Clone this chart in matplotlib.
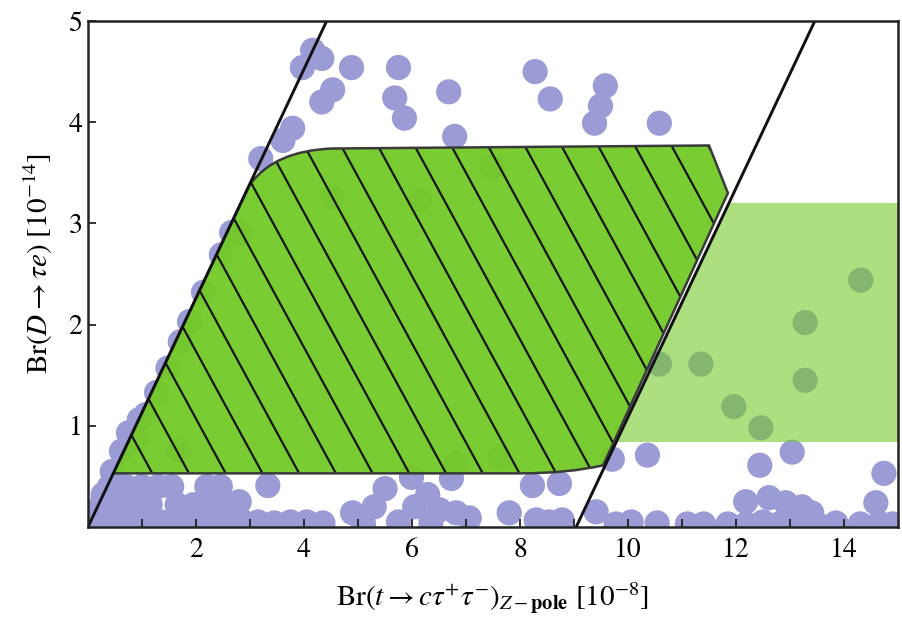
import matplotlib
matplotlib.use("Agg")
import matplotlib.pyplot as plt
from matplotlib.path import Path
from matplotlib.patches import PathPatch, Polygon
from matplotlib.ticker import FixedLocator
import numpy as np

plt.rcParams['mathtext.fontset'] = 'stix'
plt.rcParams['font.family'] = 'STIXGeneral'

# --- scan points: Br(t -> c tau tau) [1e-8], Br(D -> tau e) [1e-14] ---
upper_x = [4.16, 4.33, 3.97, 4.88, 5.75, 4.53, 4.33, 5.68, 5.86, 6.68, 6.79, 3.79, 3.61, 3.20,
           8.28, 8.56, 9.58, 9.49, 9.38, 10.58]
upper_y = [4.71, 4.63, 4.54, 4.54, 4.54, 4.32, 4.20, 4.24, 4.04, 4.30, 3.86, 3.94, 3.82, 3.64,
           4.50, 4.23, 4.36, 4.16, 3.99, 3.99]

edge_x = [2.66, 2.47, 2.14, 1.88, 1.71, 1.48, 1.27, 1.07, 0.95, 0.88, 0.75, 0.62, 0.45, 0.28, 0.15]
edge_y = [2.91, 2.69, 2.32, 2.03, 1.83, 1.57, 1.33, 1.11, 1.06, 0.87, 0.93, 0.75, 0.55, 0.32, 0.12]

low_x = [0.40, 0.70, 1.00, 1.30, 1.55, 2.20, 2.45,
         0.25, 0.55, 0.90, 1.15, 1.65, 1.95, 2.25, 2.55, 2.80,
         0.15, 0.45, 0.75, 1.05, 1.35, 1.65, 1.95, 2.25, 2.55, 2.85, 3.15, 3.45, 3.75,
         4.05, 4.35, 3.33,
         4.90, 5.10, 5.30, 5.50, 5.99, 6.05, 6.29, 6.51, 6.73, 6.82, 7.06, 5.75, 6.35,
         7.80, 8.23, 8.73, 8.30, 8.54, 8.78, 9.41]
low_y = [0.40, 0.40, 0.40, 0.40, 0.40, 0.40, 0.40,
         0.22, 0.22, 0.22, 0.22, 0.22, 0.22, 0.22, 0.22, 0.25,
         0.05, 0.05, 0.05, 0.05, 0.05, 0.05, 0.05, 0.05, 0.05, 0.06, 0.05, 0.04, 0.05,
         0.05, 0.04, 0.41,
         0.14, 0.03, 0.20, 0.38, 0.49, 0.20, 0.32, 0.17, 0.48, 0.14, 0.09, 0.05, 0.04,
         0.14, 0.41, 0.43, 0.07, 0.05, 0.07, 0.15]

right_x = [9.78, 10.06, 10.54, 11.10, 11.40, 11.85, 12.19, 12.50, 12.80, 13.10, 13.50, 13.85,
           14.30, 14.65, 14.90,
           12.18, 12.61, 12.92, 13.22, 13.40, 14.59, 14.74, 12.44, 13.04, 10.36, 9.71,
           10.58, 11.35, 11.96, 12.46, 13.28, 13.28, 14.31]
right_y = [0.03, 0.05, 0.04, 0.03, 0.03, 0.03, 0.03, 0.05, 0.03, 0.05, 0.03, 0.04,
           0.03, 0.04, 0.03,
           0.25, 0.29, 0.24, 0.20, 0.14, 0.24, 0.53, 0.61, 0.74, 0.71, 0.67,
           1.61, 1.61, 1.19, 0.98, 2.02, 1.45, 2.44]

inner_x = [4.53, 6.14, 7.49, 1.68, 7.62, 6.82, 2.81]
inner_y = [3.26, 3.23, 3.56, 0.76, 0.69, 0.63, 2.90]

# --- correlation bounds: Br_D = slope * (Br_t - offset) ---
bound_slope = 5.0 / 4.42
bound_offsets = [0.0, 9.04]

# --- measured Br(D -> tau e) band ---
band_lo, band_hi = 0.84, 3.20

# --- overlap region outline (with rounded corners) ---
region_verts = [(0.47, 0.53), (2.99, 3.38), (3.45, 3.72), (4.53, 3.74), (11.50, 3.77),
                (11.85, 3.30), (9.54, 0.61), (8.90, 0.53), (8.00, 0.53), (0.47, 0.53)]
region_codes = [Path.MOVETO, Path.LINETO, Path.CURVE3, Path.CURVE3, Path.LINETO,
                Path.LINETO, Path.LINETO, Path.CURVE3, Path.CURVE3, Path.CLOSEPOLY]

hatch_slope = -0.98
hatch_step = 0.68
hatch_anchor = (4.715, 3.74)

dot_color = '#9b9bd6'
green = (0.455, 0.792, 0.157)

fig = plt.figure(figsize=(9.02, 6.18), dpi=100)
ax = fig.add_axes([88 / 902, 1 - 527 / 618, (898 - 88) / 902, (527 - 21) / 618])

all_x = upper_x + edge_x + low_x + right_x + inner_x
all_y = upper_y + edge_y + low_y + right_y + inner_y
ax.scatter(all_x, all_y, s=330, color=dot_color, edgecolors='none', zorder=1)

# measured band to the right of the second bound
x_lo = bound_offsets[1] + band_lo / bound_slope
x_hi = bound_offsets[1] + band_hi / bound_slope
ax.add_patch(Polygon([(x_lo, band_lo), (15, band_lo), (15, band_hi), (x_hi, band_hi)],
                     closed=True, facecolor=green, alpha=0.59, edgecolor='none', zorder=2))

# overlap region with diagonal hatching
path = Path(region_verts, region_codes)
face = PathPatch(path, facecolor=green, alpha=0.96, edgecolor='none', zorder=3)
ax.add_patch(face)
for k in range(-20, 20):
    x0 = hatch_anchor[0] + k * hatch_step
    yy = np.array([-1.0, 6.0])
    xx = x0 + (yy - hatch_anchor[1]) / hatch_slope
    ln, = ax.plot(xx, yy, color='#151515', lw=1.6, zorder=4)
    ln.set_clip_path(face)
ax.add_patch(PathPatch(path, facecolor='none', edgecolor='#3a3a3a', lw=1.8, zorder=5))

# correlation bound lines
for off in bound_offsets:
    yy = np.array([0.0, 5.0])
    ax.plot(off + yy / bound_slope, yy, color='#111111', lw=2.1, zorder=6,
            solid_capstyle='butt')

ax.set_xlim(0, 15)
ax.set_ylim(0, 5)
ax.xaxis.set_major_locator(FixedLocator([2, 4, 6, 8, 10, 12, 14]))
ax.xaxis.set_minor_locator(FixedLocator([1, 3, 5, 7, 9, 11, 13]))
ax.yaxis.set_major_locator(FixedLocator([1, 2, 3, 4, 5]))
ax.tick_params(which='both', direction='in', length=6, width=1.3, color='#222222',
               labelsize=20, top=False, right=False)
ax.tick_params(axis='x', pad=8)
ax.tick_params(axis='y', pad=4)
for sp in ax.spines.values():
    sp.set_linewidth(1.8)
    sp.set_color('#222222')
    sp.set_zorder(7)

ax.set_xlabel(r'$\mathrm{Br}(t \rightarrow c\tau^{+}\tau^{-})_{Z-\mathbf{pole}}\ [10^{-8}]$',
              fontsize=21)
ax.set_ylabel(r'$\mathrm{Br}(D \rightarrow \tau e)\ [10^{-14}]$', fontsize=21)
ax.xaxis.set_label_coords(0.5, -0.105)
ax.yaxis.set_label_coords(-0.041, 0.52)

fig.savefig('out.png', dpi=100)
